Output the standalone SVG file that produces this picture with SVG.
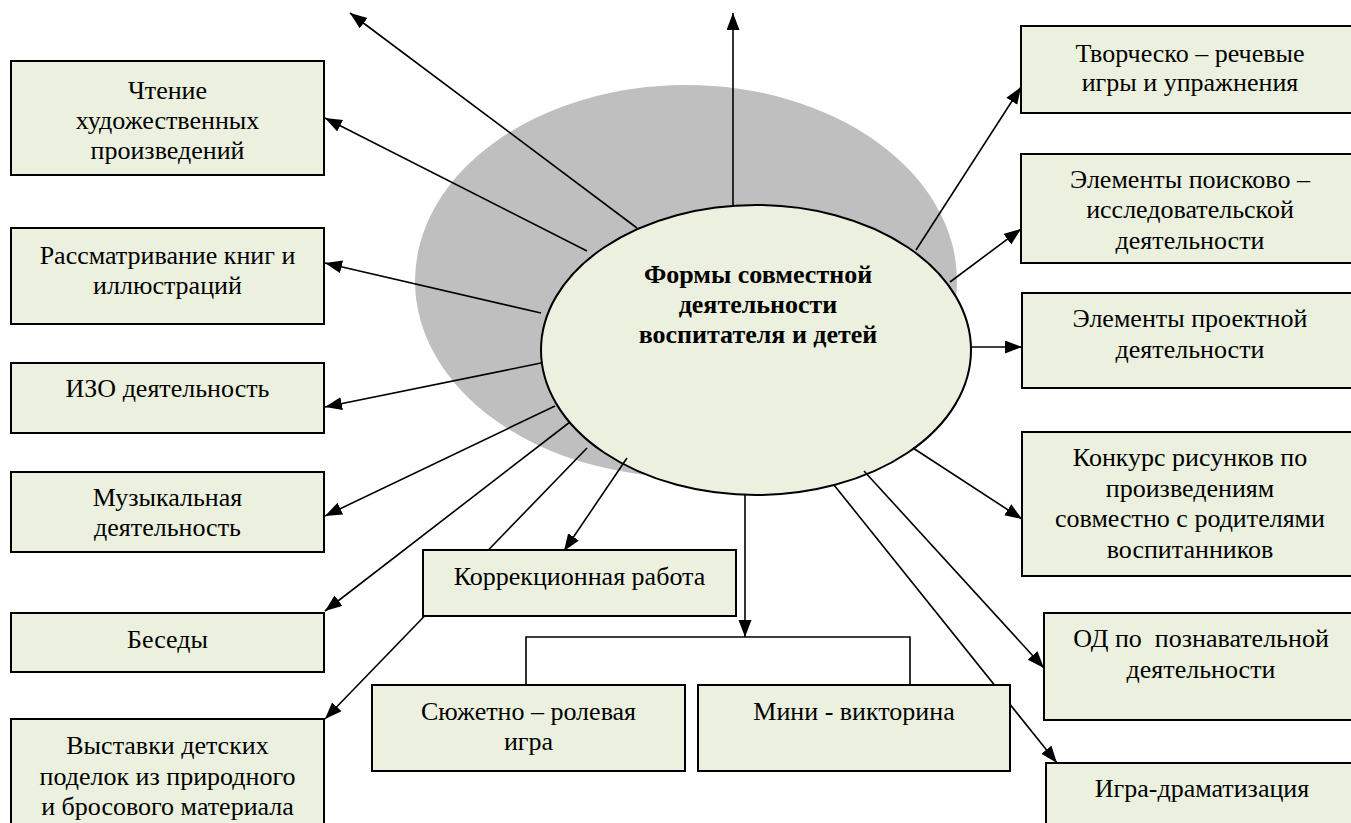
<svg xmlns="http://www.w3.org/2000/svg" width="1351" height="823" viewBox="0 0 1351 823">
<defs>
<marker id="ah" markerUnits="userSpaceOnUse" markerWidth="18" markerHeight="14" refX="17" refY="6.5" orient="auto">
<path d="M0,0 L17,6.5 L0,13 z" fill="#000"/>
</marker>
<style>
.box{fill:#ebf1de;stroke:#000;stroke-width:2}
.t{font-family:'Liberation Serif','DejaVu Serif',Tinos,'Times New Roman',serif;font-size:26px;fill:#000;text-anchor:middle}
.b{font-weight:bold}
.c{stroke:#000;stroke-width:1.6;fill:none}
.a{marker-end:url(#ah)}
</style>
</defs>
<rect width="1351" height="823" fill="#fff"/>
<ellipse id="shadow" cx="686" cy="281" rx="271" ry="196" fill="#bfbfbf"/>
<g id="center">
<ellipse cx="756" cy="350" rx="215" ry="145" class="box"/>
<text class="t b" x="758" y="283" font-family="Liberation Serif, DejaVu Serif, serif">Формы совместной</text>
<text class="t b" x="758" y="313" font-family="Liberation Serif, DejaVu Serif, serif">деятельности</text>
<text class="t b" x="758" y="343" font-family="Liberation Serif, DejaVu Serif, serif">воспитателя и детей</text>
</g>
<g id="connectors">
<line class="c a" x1="637" y1="228" x2="350" y2="13"/>
<line class="c a" x1="733" y1="205" x2="733" y2="13"/>
<line class="c a" x1="587" y1="251" x2="325" y2="118"/>
<line class="c a" x1="541" y1="313" x2="325" y2="263"/>
<line class="c a" x1="541" y1="363" x2="325" y2="407"/>
<line class="c a" x1="555" y1="406" x2="325" y2="516"/>
<line class="c a" x1="570" y1="422" x2="325" y2="611"/>
<line class="c a" x1="587" y1="448" x2="325" y2="719"/>
<line class="c a" x1="627" y1="458" x2="564" y2="551"/>
<line class="c a" x1="745" y1="495" x2="745" y2="637"/>
<polyline class="c" points="526,685 526,637 910,637 910,685"/>
<line class="c a" x1="916" y1="250" x2="1021" y2="87"/>
<line class="c a" x1="950" y1="282" x2="1021" y2="229"/>
<line class="c a" x1="971" y1="347" x2="1022" y2="347"/>
<line class="c a" x1="913" y1="448" x2="1022" y2="519"/>
<line class="c a" x1="864" y1="471" x2="1044" y2="668"/>
<line class="c a" x1="834" y1="485" x2="1057" y2="763"/>
</g>
<g id="n-chtenie"><rect class="box" x="11" y="61" width="313" height="114"/>
<text class="t" x="167.5" y="99">Чтение</text><text class="t" x="167.5" y="129">художественных</text><text class="t" x="167.5" y="159">произведений</text></g>
<g id="n-rassm"><rect class="box" x="11" y="228" width="313" height="96"/>
<text class="t" x="167.5" y="264">Рассматривание книг и</text><text class="t" x="167.5" y="294">иллюстраций</text></g>
<g id="n-izo"><rect class="box" x="11" y="363" width="313" height="70"/>
<text class="t" x="167.5" y="397">ИЗО деятельность</text></g>
<g id="n-muz"><rect class="box" x="11" y="472" width="313" height="80"/>
<text class="t" x="167.5" y="506">Музыкальная</text><text class="t" x="167.5" y="536">деятельность</text></g>
<g id="n-besedy"><rect class="box" x="11" y="613" width="313" height="59"/>
<text class="t" x="167.5" y="648">Беседы</text></g>
<g id="n-vystavki"><rect class="box" x="11" y="719" width="313" height="112"/>
<text class="t" x="167.5" y="754">Выставки детских</text><text class="t" x="167.5" y="785">поделок из природного</text><text class="t" x="167.5" y="815">и бросового материала</text></g>
<g id="n-korr"><rect class="box" x="423" y="550" width="313" height="66"/>
<text class="t" x="579.5" y="585">Коррекционная работа</text></g>
<g id="n-syuzh"><rect class="box" x="372" y="685" width="313" height="86"/>
<text class="t" x="528.5" y="720">Сюжетно – ролевая</text><text class="t" x="528.5" y="750">игра</text></g>
<g id="n-mini"><rect class="box" x="698" y="685" width="312" height="86"/>
<text class="t" x="854" y="720">Мини - викторина</text></g>
<g id="n-tvor"><rect class="box" x="1021" y="26" width="338" height="87"/>
<text class="t" x="1190" y="62">Творческо – речевые</text><text class="t" x="1190" y="91">игры и упражнения</text></g>
<g id="n-poisk"><rect class="box" x="1021" y="154" width="338" height="109"/>
<text class="t" x="1190" y="188">Элементы поисково –</text><text class="t" x="1190" y="218">исследовательской</text><text class="t" x="1190" y="249">деятельности</text></g>
<g id="n-proekt"><rect class="box" x="1022" y="293" width="337" height="95"/>
<text class="t" x="1190" y="327">Элементы проектной</text><text class="t" x="1190" y="358">деятельности</text></g>
<g id="n-konkurs"><rect class="box" x="1022" y="432" width="337" height="144"/>
<text class="t" x="1190" y="466">Конкурс рисунков по</text><text class="t" x="1190" y="497">произведениям</text><text class="t" x="1190" y="527">совместно с родителями</text><text class="t" x="1190" y="558">воспитанников</text></g>
<g id="n-od"><rect class="box" x="1044" y="613" width="315" height="107"/>
<text class="t" x="1201" y="647" style="white-space:pre">ОД по  познавательной</text><text class="t" x="1201" y="678">деятельности</text></g>
<g id="n-igra"><rect class="box" x="1046" y="763" width="313" height="70"/>
<text class="t" x="1202" y="797">Игра-драматизация</text></g>
</svg>
